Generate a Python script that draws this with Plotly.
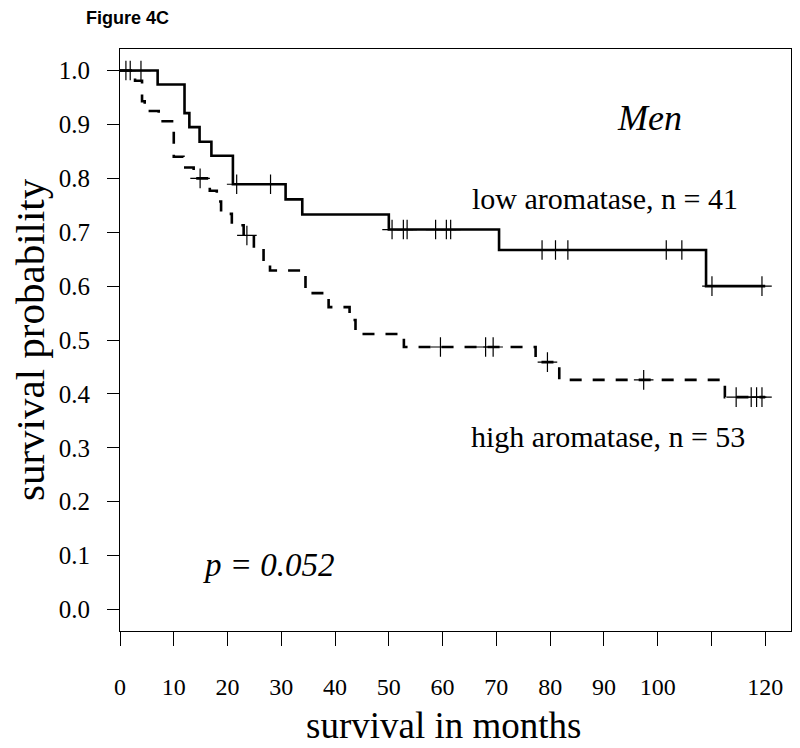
import plotly.graph_objects as go

# ---- data ----
# low aromatase (solid line), Kaplan-Meier steps
low_t = [0, 7.0, 12.0, 12.9, 14.8, 17.0, 21.0, 30.8, 33.9, 50.0, 70.5, 109.0, 120.0]
low_s = [1.0, 0.974, 0.921, 0.895, 0.868, 0.842, 0.789, 0.761, 0.733, 0.705, 0.667, 0.600, 0.600]
low_cens_t = [1.1, 1.9, 3.9, 21.7, 28.0, 50.6, 52.7, 53.4, 58.7, 60.7, 61.5,
              78.5, 81.0, 83.3, 101.6, 104.5, 110.1, 119.4]
low_cens_s = [1.0, 1.0, 1.0, 0.789, 0.789, 0.705, 0.705, 0.705, 0.705, 0.705, 0.705,
              0.667, 0.667, 0.667, 0.667, 0.667, 0.600, 0.600]

# high aromatase (dashed line)
high_t = [0, 2.8, 4.1, 4.6, 7.2, 10.0, 11.8, 13.7, 16.7, 18.0, 18.8, 20.8, 23.0, 24.9,
          26.7, 27.9, 34.5, 38.8, 42.7, 43.8, 52.8, 77.3, 81.7, 112.5, 120.0]
high_s = [1.0, 0.981, 0.943, 0.925, 0.906, 0.840, 0.820, 0.800, 0.777, 0.757, 0.734, 0.713, 0.694, 0.671,
          0.649, 0.629, 0.587, 0.561, 0.537, 0.511, 0.487, 0.459, 0.426, 0.394, 0.394]
high_cens_t = [14.9, 23.6, 59.6, 68.0, 69.4, 79.5, 97.4, 114.6, 117.4, 118.4, 119.4]
high_cens_s = [0.800, 0.694, 0.487, 0.487, 0.487, 0.459, 0.426, 0.394, 0.394, 0.394, 0.394]

x_ticks = [0, 10, 20, 30, 40, 50, 60, 70, 80, 90, 100, 110, 120]
x_labels = ["0", "10", "20", "30", "40", "50", "60", "70", "80", "90", "100", "", "120"]
y_ticks = [0.0, 0.1, 0.2, 0.3, 0.4, 0.5, 0.6, 0.7, 0.8, 0.9, 1.0]
y_labels = ["0.0", "0.1", "0.2", "0.3", "0.4", "0.5", "0.6", "0.7", "0.8", "0.9", "1.0"]

SERIF = "Liberation Serif, Times New Roman, serif"
OFF = 8  # page body margin of the browser
W, H = 800 - OFF, 748 - OFF
# plot box in page pixels: left 120, right 791, top 49, bottom 631
L = 120 - OFF
T = 49 - OFF
R = W - (791 - OFF)
B = H - (631 - OFF)
PW, PH = W - L - R, H - T - B

fig = go.Figure()
fig.add_trace(go.Scatter(x=low_t, y=low_s, mode="lines", line=dict(shape="hv", color="black", width=2.6),
                         showlegend=False, hoverinfo="skip"))
fig.add_trace(go.Scatter(x=high_t, y=high_s, mode="lines",
                         line=dict(shape="hv", color="black", width=2.6, dash="12px,11px"),
                         showlegend=False, hoverinfo="skip"))
fig.add_trace(go.Scatter(x=low_cens_t, y=low_cens_s, mode="markers",
                         marker=dict(symbol="cross-thin", size=14, line=dict(color="black", width=1.2)),
                         showlegend=False, hoverinfo="skip"))
fig.add_trace(go.Scatter(x=high_cens_t, y=high_cens_s, mode="markers",
                         marker=dict(symbol="cross-thin", size=14, line=dict(color="black", width=1.2)),
                         showlegend=False, hoverinfo="skip"))


def px(xp, yp):
    # page pixel -> paper coordinates
    xf, yf = xp - OFF, yp - OFF
    return (xf - L) / PW, (H - B - yf) / PH


annotations = []


def add_text(text, xp, yp, size, italic=False, family=SERIF, angle=0, bold=False):
    ax, ay = px(xp, yp)
    if italic:
        text = "<i>" + text + "</i>"
    if bold:
        text = "<b>" + text + "</b>"
    annotations.append(dict(text=text, x=ax, y=ay, xref="paper", yref="paper",
                            xanchor="center", yanchor="middle", showarrow=False,
                            textangle=angle, font=dict(family=family, size=size, color="black")))


add_text("Men", 649, 118, 36, italic=True)
add_text("low aromatase, n = 41", 605, 198, 30)
add_text("high aromatase, n = 53", 608, 436, 30)
add_text("p = 0.052", 269, 565, 33, italic=True)
add_text("survival probability", 30, 340, 41, angle=-90)
add_text("survival in months", 443, 725, 37)
add_text("Figure 4C", 127, 18, 18, family="Liberation Sans, Arial, sans-serif", bold=True)

fig.update_layout(
    width=W, height=H,
    margin=dict(l=L, r=R, t=T, b=B, pad=0),
    paper_bgcolor="white", plot_bgcolor="white",
    annotations=annotations,
    xaxis=dict(range=[0, 124.8], tickmode="array", tickvals=x_ticks, ticktext=x_labels,
               ticks="outside", ticklen=14, tickwidth=1, tickcolor="black",
               showline=True, linecolor="black", linewidth=1, mirror=True,
               showgrid=False, zeroline=False, ticklabelstandoff=20,
               tickfont=dict(family=SERIF, size=24, color="black")),
    yaxis=dict(range=[-0.04, 1.04], tickmode="array", tickvals=y_ticks, ticktext=y_labels,
               ticks="outside", ticklen=12, tickwidth=1, tickcolor="black",
               showline=True, linecolor="black", linewidth=1, mirror=True,
               showgrid=False, zeroline=False, ticklabelstandoff=12,
               tickfont=dict(family=SERIF, size=25, color="black")),
)

fig.write_html("out.html")
